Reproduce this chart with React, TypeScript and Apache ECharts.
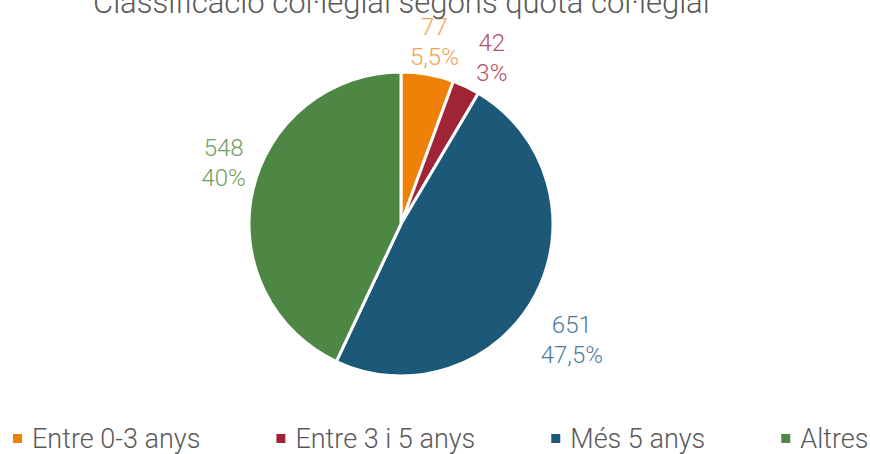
import React, { useEffect, useRef } from "react";
import * as echarts from "echarts";

const titleText = "Classificació col·legial segons quota col·legial";
const categories = ["Entre 0-3 anys", "Entre 3 i 5 anys", "Més 5 anys", "Altres"];
// slice shares as drawn in the picture (percent of the full circle)
const sliceShares = [5.6, 2.9, 48.5, 43.0];
// texts shown in the data labels
const countLabels = [77, 42, 651, 548];
const percentLabels = [5.5, 3, 47.5, 40];
const sliceColors = ["#EF8008", "#A02336", "#1C5878", "#4E8743"];
const labelColors = ["#F4A055", "#B8505E", "#4F7B99", "#6F9E63"];

// label nudges (layout only), px
const labelNudges = [
  [0, 6],
  [9, 7],
  [2, 27],
  [9, -19],
];

const FONT = "Roboto";

export default function App() {
  const ref = useRef<HTMLDivElement>(null);
  useEffect(() => {
    if (!ref.current) return;
    const chart = echarts.init(ref.current, null, { renderer: "svg" });
    const fmtPct = (p: number) => String(p).replace(".", ",") + "%";
    const mainData = categories.map((name, i) => ({
      name,
      value: sliceShares[i],
      itemStyle: { color: sliceColors[i] },
    }));
    const labelData = categories.map((name, i) => ({
      name,
      value: sliceShares[i],
      label: { color: labelColors[i] },
    }));
    chart.setOption({
      animation: false,
      backgroundColor: "#ffffff",
      title: {
        text: titleText,
        left: 93,
        top: -13,
        padding: 0,
        textStyle: {
          fontFamily: FONT,
          fontWeight: 300,
          fontSize: 31,
          color: "#595959",
        },
      },
      legend: {
        data: categories,
        left: 11,
        top: 425,
        width: 900,
        icon: "rect",
        itemWidth: 11,
        itemHeight: 11,
        itemGap: 74,
        padding: 0,
        textStyle: {
          fontFamily: FONT,
          fontWeight: 300,
          fontSize: 27,
          color: "#595959",
          padding: [0, 0, 0, 4],
        },
      },
      series: [
        {
          type: "pie",
          center: [401, 224],
          radius: 152,
          startAngle: 90,
          clockwise: true,
          silent: true,
          label: { show: false },
          labelLine: { show: false },
          itemStyle: { borderColor: "#ffffff", borderWidth: 3 },
          data: mainData,
        },
        {
          type: "pie",
          center: [401, 224],
          radius: [168, 208],
          startAngle: 90,
          clockwise: true,
          silent: true,
          itemStyle: { color: "transparent" },
          label: {
            show: true,
            position: "inside",
            fontFamily: FONT,
            fontWeight: 300,
            fontSize: 24,
            lineHeight: 30,
            align: "center",
            formatter: (p: any) =>
              `${countLabels[p.dataIndex]}\n${fmtPct(percentLabels[p.dataIndex])}`,
          },
          labelLayout: (p: any) => ({
            dx: labelNudges[p.dataIndex][0],
            dy: labelNudges[p.dataIndex][1],
          }),
          labelLine: { show: false },
          data: labelData,
        },
      ],
    });
    return () => chart.dispose();
  }, []);
  return (
    <div
      ref={ref}
      style={{ position: "absolute", left: 0, top: 0, width: 870, height: 454 }}
    />
  );
}
